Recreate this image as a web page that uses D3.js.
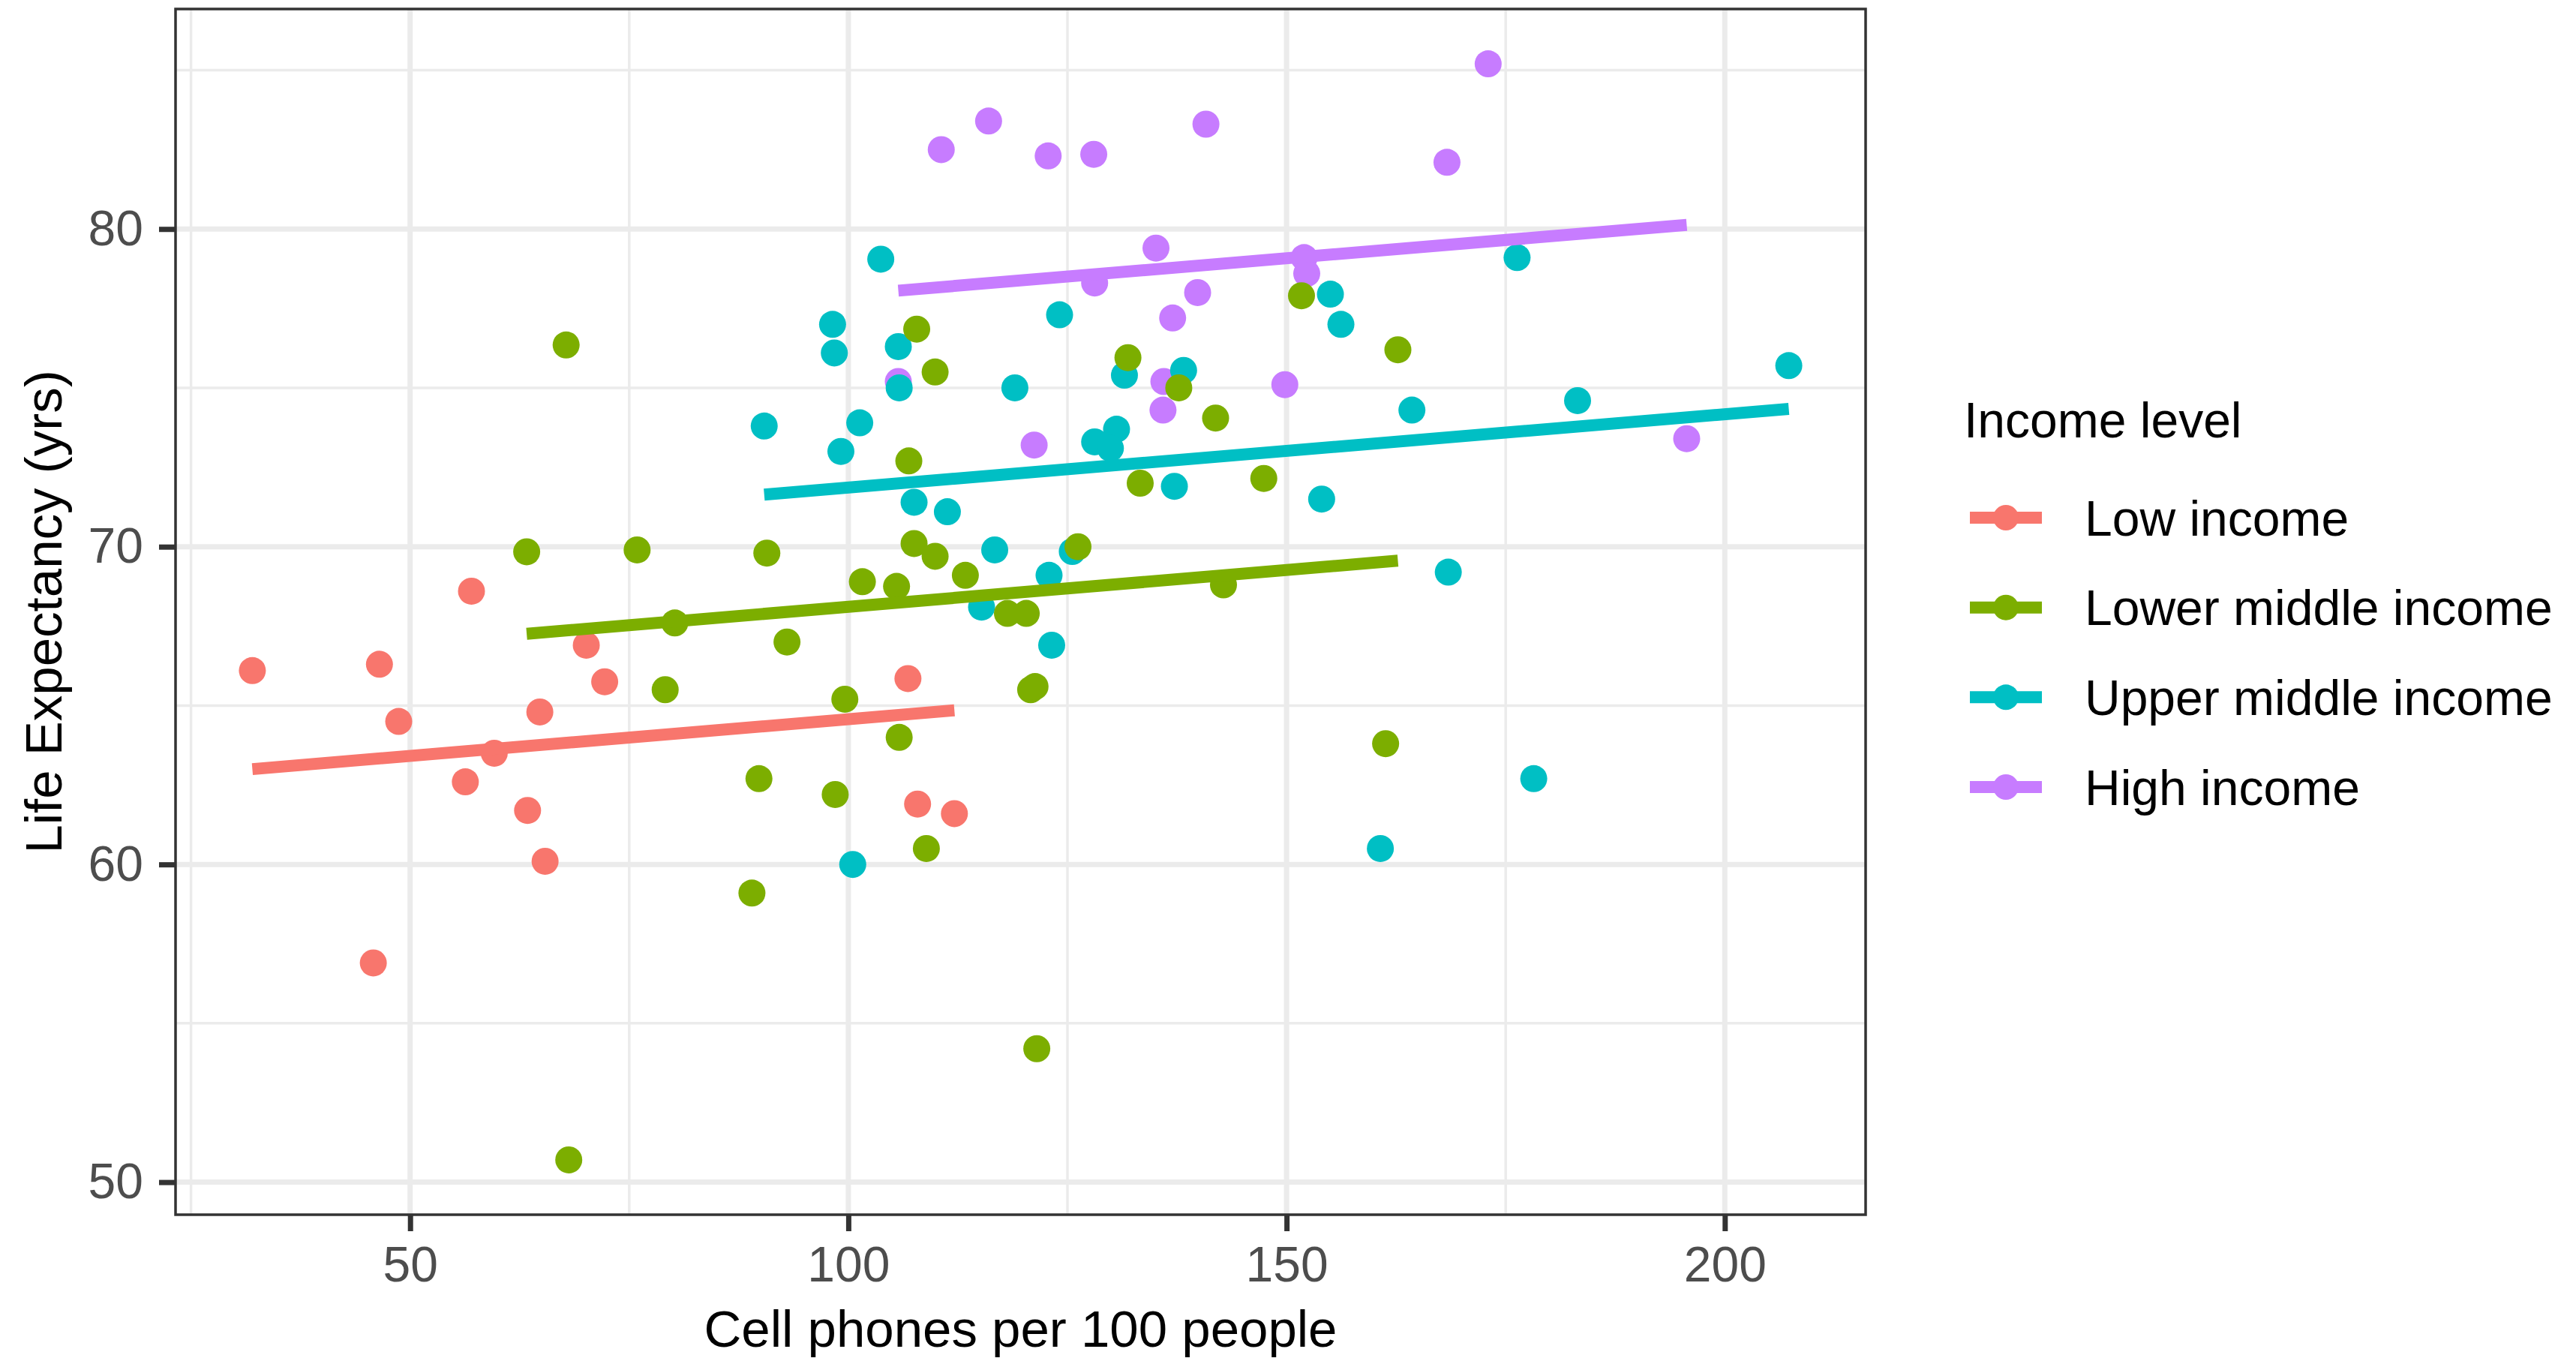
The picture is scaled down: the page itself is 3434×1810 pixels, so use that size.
<!DOCTYPE html>
<html>
<head>
<meta charset="utf-8">
<script src="https://cdn.jsdelivr.net/npm/d3@7"></script>
<style>
  html, body { margin: 0; padding: 0; background: #fff; }
  svg { display: block; font-family: "Liberation Sans", Arial, Helvetica, sans-serif; }
</style>
</head>
<body>
<svg id="chart" width="3434" height="1810"></svg>
<script>
// income groups, legend order
const incomeLevels = ["Low income", "Lower middle income", "Upper middle income", "High income"];

// [cell phones per 100 people, life expectancy (yrs)]
const lowIncome = [
    [32.0, 66.1], [46.5, 66.3], [48.7, 64.5], [45.8, 56.9], [57.0, 68.6],
    [56.3, 62.6], [59.6, 63.5], [63.4, 61.7], [64.8, 64.8], [65.4, 60.1],
    [70.1, 66.9], [72.2, 65.75], [106.8, 65.85], [107.9, 61.9], [112.1, 61.6]
];
const lowerMiddleIncome = [
    [67.8, 76.35], [63.3, 69.84], [68.1, 50.7], [75.9, 69.9], [90.7, 69.8],
    [80.2, 67.6], [79.1, 65.5], [93.0, 67.0], [89.8, 62.7], [98.5, 62.2],
    [89.0, 59.1], [99.6, 65.2], [101.6, 68.9], [105.5, 68.75], [107.5, 70.1],
    [109.9, 69.7], [113.35, 69.1], [105.8, 64.0], [108.9, 60.5], [106.9, 72.7],
    [107.8, 76.85], [109.9, 75.5], [118.15, 67.9], [120.3, 67.9], [120.8, 65.5],
    [121.3, 65.6], [121.5, 54.2], [126.2, 70.0], [131.9, 75.95], [133.3, 72.0],
    [137.7, 75.0], [141.9, 74.05], [142.8, 68.8], [147.4, 72.15], [151.7, 77.9],
    [162.7, 76.2], [161.3, 63.8]
];
const upperMiddleIncome = [
    [103.7, 79.05], [124.1, 77.3], [98.2, 77.0], [98.4, 76.1], [105.7, 76.3],
    [105.8, 75.0], [119.0, 75.0], [131.5, 75.4], [90.4, 73.8], [101.3, 73.9],
    [99.15, 73.0], [130.6, 73.7], [128.1, 73.3], [129.9, 73.1], [137.2, 71.9],
    [107.5, 71.4], [111.3, 71.1], [116.7, 69.9], [125.55, 69.85], [122.9, 69.1],
    [115.2, 68.1], [123.2, 66.9], [100.5, 60.0], [176.3, 79.1], [155.0, 77.95],
    [156.2, 77.0], [138.25, 75.55], [164.3, 74.3], [183.2, 74.6], [207.3, 75.7],
    [154.0, 71.5], [168.45, 69.2], [178.2, 62.7], [160.7, 60.5]
];
const highIncome = [
    [116.0, 83.4], [110.6, 82.5], [122.8, 82.3], [128.0, 82.35], [140.8, 83.3],
    [173.0, 85.2], [168.3, 82.1], [135.1, 79.4], [128.1, 78.3], [137.0, 77.2],
    [139.85, 78.0], [152.0, 79.1], [152.3, 78.6], [105.7, 75.2], [121.2, 73.2],
    [136.0, 75.2], [135.9, 74.3], [149.8, 75.1], [195.65, 73.4]
];

// fitted line value (yrs) at the left and right end of each group
const trendY = [[63.0, 64.85], [67.26, 69.56], [71.64, 74.34], [78.06, 80.13]];

const xTicks = [50, 100, 150, 200];
const xMinor = [25, 75, 125, 175];
const yTicks = [50, 60, 70, 80];
const yMinor = [55, 65, 75, 85];

const palette = ["#F8766D", "#7CAE00", "#00BFC4", "#C77CFF"];
const fontSize = 66;
const titleSize = 69;

const svg = d3.select("#chart");
const panel = { left: 234, right: 2487, top: 12, bottom: 1619 };

const groups = incomeLevels.map((name, i) => ({
    name: name,
    points: [lowIncome, lowerMiddleIncome, upperMiddleIncome, highIncome][i],
    trend: trendY[i],
    color: palette[i]
}));

const allPoints = groups.flatMap(g => g.points);

// ggplot style 5% expansion
function expand(ext) {
    const pad = (ext[1] - ext[0]) * 0.05;
    return [ext[0] - pad, ext[1] + pad];
}

const x = d3.scaleLinear()
    .domain(expand(d3.extent(allPoints, d => d[0])))
    .range([panel.left, panel.right]);

const y = d3.scaleLinear()
    .domain(expand(d3.extent(allPoints, d => d[1])))
    .range([panel.bottom, panel.top]);

// grid
const grid = svg.append("g").attr("stroke", "#EBEBEB");

grid.selectAll(".xminor").data(xMinor).enter().append("line")
    .attr("x1", d => x(d)).attr("x2", d => x(d))
    .attr("y1", panel.top).attr("y2", panel.bottom)
    .attr("stroke-width", 3.5);
grid.selectAll(".yminor").data(yMinor).enter().append("line")
    .attr("y1", d => y(d)).attr("y2", d => y(d))
    .attr("x1", panel.left).attr("x2", panel.right)
    .attr("stroke-width", 3.5);
grid.selectAll(".xmajor").data(xTicks).enter().append("line")
    .attr("x1", d => x(d)).attr("x2", d => x(d))
    .attr("y1", panel.top).attr("y2", panel.bottom)
    .attr("stroke-width", 7);
grid.selectAll(".ymajor").data(yTicks).enter().append("line")
    .attr("y1", d => y(d)).attr("y2", d => y(d))
    .attr("x1", panel.left).attr("x2", panel.right)
    .attr("stroke-width", 7);

// points (high income underneath, low income on top)
const drawOrder = [3, 2, 1, 0];
drawOrder.forEach(i => {
    const g = groups[i];
    svg.append("g")
        .selectAll("circle")
        .data(g.points)
        .enter().append("circle")
        .attr("cx", d => x(d[0]))
        .attr("cy", d => y(d[1]))
        .attr("r", 18)
        .attr("fill", g.color);
});

// fitted lines over each group's x range
groups.forEach(g => {
    const ext = d3.extent(g.points, d => d[0]);
    svg.append("line")
        .attr("x1", x(ext[0])).attr("y1", y(g.trend[0]))
        .attr("x2", x(ext[1])).attr("y2", y(g.trend[1]))
        .attr("stroke", g.color)
        .attr("stroke-width", 16);
});

// panel border
svg.append("rect")
    .attr("x", panel.left).attr("y", panel.top)
    .attr("width", panel.right - panel.left)
    .attr("height", panel.bottom - panel.top)
    .attr("fill", "none")
    .attr("stroke", "#333333")
    .attr("stroke-width", 3.5);

// axes
const xAxis = svg.append("g")
    .attr("transform", `translate(0,${panel.bottom})`)
    .call(d3.axisBottom(x).tickValues(xTicks).tickSize(22).tickPadding(20));

const yAxis = svg.append("g")
    .attr("transform", `translate(${panel.left},0)`)
    .call(d3.axisLeft(y).tickValues(yTicks).tickSize(22).tickPadding(21));

[xAxis, yAxis].forEach(a => {
    a.select(".domain").remove();
    a.selectAll(".tick line").attr("stroke", "#333333").attr("stroke-width", 7);
    a.selectAll(".tick text")
        .attr("fill", "#4D4D4D")
        .style("font-size", fontSize + "px")
        .style("font-family", "'Liberation Sans', Arial, Helvetica, sans-serif");
});

// axis titles
svg.append("text")
    .attr("x", (panel.left + panel.right) / 2)
    .attr("y", 1795)
    .attr("text-anchor", "middle")
    .style("font-size", titleSize + "px")
    .text("Cell phones per 100 people");

svg.append("text")
    .attr("transform", `translate(82,${(panel.top + panel.bottom) / 2}) rotate(-90)`)
    .attr("text-anchor", "middle")
    .style("font-size", titleSize + "px")
    .text("Life Expectancy (yrs)");

// legend
const legend = svg.append("g").attr("transform", "translate(2618,0)");

legend.append("text")
    .attr("x", 0).attr("y", 583)
    .style("font-size", fontSize + "px")
    .text("Income level");

const rowY = d3.scalePoint().domain(incomeLevels).range([690, 1049]);

const item = legend.selectAll(".item")
    .data(groups)
    .enter().append("g")
    .attr("transform", d => `translate(0,${rowY(d.name)})`);

item.append("line")
    .attr("x1", 8).attr("x2", 104)
    .attr("stroke", d => d.color)
    .attr("stroke-width", 16);

item.append("circle")
    .attr("cx", 56).attr("r", 17)
    .attr("fill", d => d.color);

item.append("text")
    .attr("x", 161)
    .attr("dy", "0.36em")
    .style("font-size", fontSize + "px")
    .text(d => d.name);
</script>
</body>
</html>
